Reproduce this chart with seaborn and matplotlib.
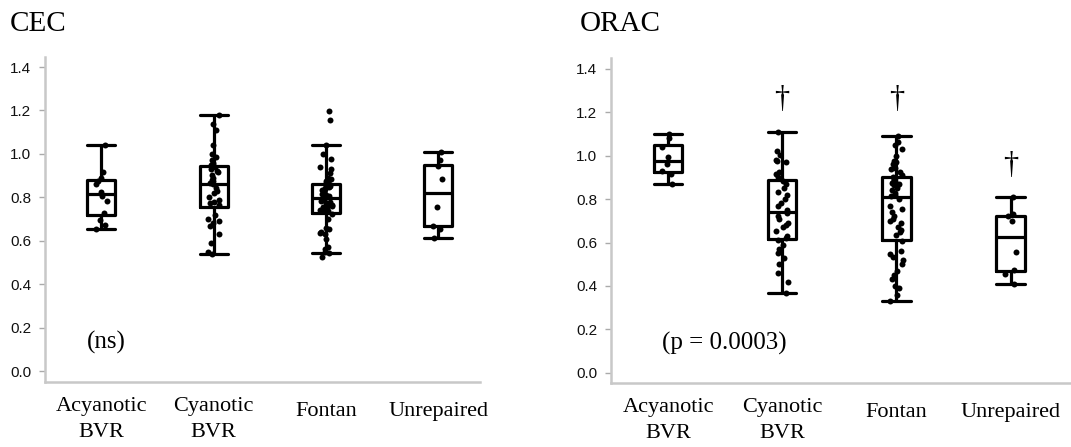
import numpy as np
import pandas as pd
import seaborn as sns
import matplotlib.pyplot as plt

# 分组与读取的数据点
groups = ['Acyanotic\nBVR', 'Cyanotic\nBVR', 'Fontan', 'Unrepaired']

cec_acyanotic = [0.655, 0.671, 0.694, 0.73, 0.782, 0.805, 0.825, 0.863, 0.875, 0.89, 0.917, 1.04]
cec_cyanotic = [0.54, 0.55, 0.59, 0.63, 0.67, 0.68, 0.69, 0.70, 0.72, 0.765,
                0.775, 0.78, 0.79, 0.80, 0.82, 0.83, 0.845, 0.86, 0.866,
                0.875, 0.88, 0.89, 0.905, 0.915, 0.92, 0.93, 0.94, 0.95,
                0.96, 0.97, 0.985, 1.00, 1.04, 1.11, 1.14, 1.18]
cec_fontan = [0.525, 0.545, 0.55, 0.56, 0.57, 0.61, 0.63, 0.635, 0.64, 0.655, 0.66, 0.70, 0.725, 0.735,
              0.74, 0.745, 0.75, 0.755, 0.76, 0.765, 0.77, 0.775, 0.78, 0.785, 0.79, 0.80,
              0.805, 0.81, 0.815, 0.82, 0.825, 0.83, 0.835, 0.84, 0.845, 0.85, 0.852, 0.865,
              0.875, 0.88, 0.885, 0.89, 0.91, 0.93, 0.94, 0.975, 1.00, 1.04, 1.155, 1.197]
cec_unrepaired = [0.615, 0.655, 0.67, 0.755, 0.886, 0.945, 0.97, 1.01]

orac_acyanotic = [0.868, 0.915, 0.93, 0.96, 0.995, 1.04, 1.08, 1.10]
orac_cyanotic = [0.369, 0.42, 0.46, 0.50, 0.53, 0.55, 0.57, 0.59, 0.61, 0.62,
                 0.63, 0.655, 0.67, 0.68, 0.69, 0.71, 0.72, 0.735, 0.75,
                 0.77, 0.78, 0.80, 0.82, 0.835, 0.85, 0.87, 0.885, 0.90,
                 0.915, 0.925, 0.97, 0.975, 0.98, 1.005, 1.02, 1.11]
orac_fontan = [0.33, 0.36, 0.39, 0.40, 0.43, 0.45, 0.47, 0.50, 0.52, 0.535, 0.545, 0.56, 0.605, 0.635,
               0.65, 0.66, 0.67, 0.69, 0.70, 0.71, 0.72, 0.74, 0.755, 0.77, 0.80, 0.815,
               0.82, 0.83, 0.84, 0.85, 0.86, 0.865, 0.87, 0.875, 0.88, 0.885, 0.897, 0.903,
               0.91, 0.925, 0.94, 0.945, 0.96, 0.97, 0.975, 1.00, 1.03, 1.05, 1.065, 1.09]
orac_unrepaired = [0.41, 0.455, 0.475, 0.555, 0.70, 0.72, 0.73, 0.81]

# 显著性标记 († 所在组及高度)
orac_dagger_groups = [1, 2, 3]
orac_dagger_y = [1.257, 1.257, 0.957]

yticks = [0.0, 0.2, 0.4, 0.6, 0.8, 1.0, 1.2, 1.4]


def long_form(vals_list):
    rows = []
    for g, vals in zip(groups, vals_list):
        rows += [(g, v) for v in vals]
    return pd.DataFrame(rows, columns=['group', 'value'])


cec = long_form([cec_acyanotic, cec_cyanotic, cec_fontan, cec_unrepaired])
orac = long_form([orac_acyanotic, orac_cyanotic, orac_fontan, orac_unrepaired])

sns.set_theme(style='white')
plt.rcParams['text.color'] = 'black'
np.random.seed(7)

fig = plt.figure(figsize=(10.71, 4.47), dpi=100)
ax1 = fig.add_axes([0.042, 0.1454, 0.4062, 0.727])
ax2 = fig.add_axes([0.5705, 0.1432, 0.4295, 0.727])

serif = 'Liberation Serif'


def draw(ax, df, xlim, ylim):
    sns.boxplot(data=df, x='group', y='value', order=groups, width=0.25, fill=False,
                color='black', linewidth=2.3, showfliers=False, capwidths=0.25, ax=ax)
    sns.stripplot(data=df, x='group', y='value', order=groups, color='black', size=4.3,
                  linewidth=0, jitter=0.055, ax=ax, zorder=3)
    ax.set_xlim(*xlim)
    ax.set_ylim(*ylim)
    ax.set_xlabel('')
    ax.set_ylabel('')
    ax.set_yticks(yticks)
    ax.set_yticklabels(['%.1f' % t for t in yticks], fontsize=11, color='#111111',
                       fontfamily='Liberation Sans')
    ax.set_xticks(range(len(groups)))
    ax.set_xticklabels(groups, fontsize=16, fontfamily=serif, color='black', linespacing=1.5)
    for lab in ax.get_xticklabels():
        if '\n' not in lab.get_text():
            lab.set_y(-0.015)
    ax.tick_params(axis='y', left=True, length=4, width=1, color='#aaaaaa', pad=6)
    ax.tick_params(axis='x', bottom=False, pad=5)
    for s in ['top', 'right']:
        ax.spines[s].set_visible(False)
    for s in ['left', 'bottom']:
        ax.spines[s].set_color('#c8c8c8')
        ax.spines[s].set_linewidth(1.8)


draw(ax1, cec, (-0.5, 3.37), (-0.05, 1.446))
draw(ax2, orac, (-0.5, 3.53), (-0.047, 1.45))

ax1.text(0.05, 0.13, '(ns)', fontsize=18, fontfamily=serif, ha='center', va='center', color='black')
ax2.text(0.49, 0.137, '(p = 0.0003)', fontsize=18, fontfamily=serif, ha='center', va='center',
         color='black')
for gx, gy in zip(orac_dagger_groups, orac_dagger_y):
    ax2.text(gx, gy, '\u2020', fontsize=22, fontfamily=serif, ha='center', va='center', color='black')

fig.text(10 / 1071, 1 - 31 / 447, 'CEC', fontsize=21, fontfamily=serif, va='baseline', color='black')
fig.text(580 / 1071, 1 - 31 / 447, 'ORAC', fontsize=21, fontfamily=serif, va='baseline', color='black')

fig.savefig('out.png', dpi=100)
